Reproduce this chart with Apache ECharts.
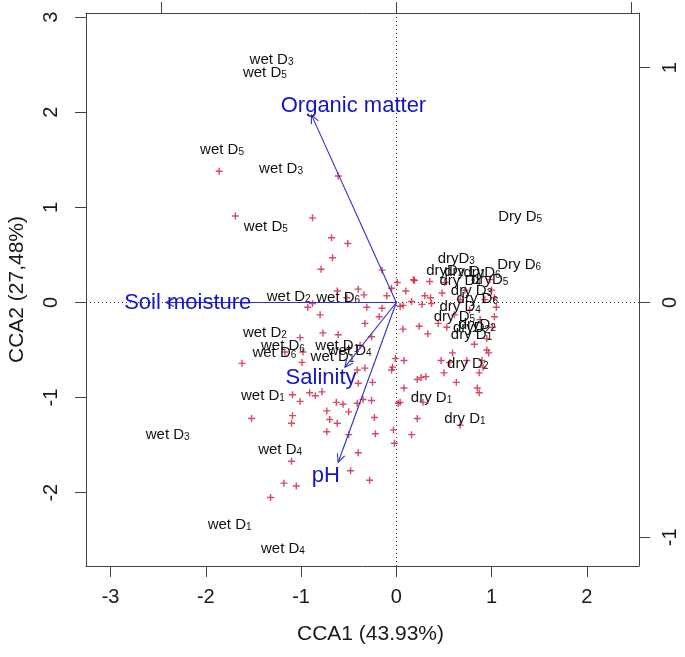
<!DOCTYPE html>
<html><head><meta charset="utf-8">
<script src="https://cdn.jsdelivr.net/npm/echarts@6/dist/echarts.min.js"></script>
<style>html,body{margin:0;padding:0;background:#fff}#c{width:685px;height:657px}</style>
</head><body><div id="c"></div>
<script>
// ---- axis ticks / titles ----
const xTicks = [-3, -2, -1, 0, 1, 2];
const yTicks = [-2, -1, 0, 1, 2, 3];
const topTicks = [-1, 0, 1];
const rightTicks = [-1, 0, 1];
const xTitle = 'CCA1 (43.93%)';
const yTitle = 'CCA2 (27,48%)';

// ---- species scores (red +) ----
const speciesX = [-1.86,-1.69,-0.88,-0.61,-0.68,-0.51,-0.67,-0.79,-0.15,0.01,0.19,-0.05,0.10,-0.40,-0.34,-0.10,-0.62,-0.52,-0.88,-0.93,
  -0.31,-0.15,0.07,0.16,-0.80,-0.33,-0.18,-0.77,-0.61,-0.26,-1.01,-1.17,-0.98,-0.50,-0.38,-1.62,-0.99,-0.41,-0.33,-0.04,
  -1.09,-0.91,-0.85,-0.78,-1.01,-0.40,-0.25,-0.35,-0.26,-0.63,-0.56,-0.50,-0.41,-0.73,-1.52,-1.09,-1.10,-0.70,-0.62,-0.23,
  -0.73,-0.50,-0.22,-0.02,-0.40,-1.10,-0.48,-0.28,-1.18,-1.05,-1.32,-0.03,0.02,0.18,0.35,0.48,0.30,0.36,0.04,0.27,
  0.37,0.07,0.24,0.33,0.44,0.53,0.82,0.95,0.95,0.97,1.03,1.01,1.05,1.03,1.00,0.90,0.91,0.87,0.59,0.47,
  0.56,0.50,-0.01,0.08,-0.05,0.26,0.31,0.22,0.63,0.85,0.87,0.08,0.28,0.04,0.22,0.67,0.16,0.74,0.98,0.51,
  0.67,0.77,0.88,0.72,0.61,0.93];
const speciesY = [1.38,0.91,0.89,1.33,0.68,0.62,0.47,0.35,0.34,0.21,0.23,0.15,0.12,0.14,0.08,0.07,0.12,0.05,-0.01,-0.05,
  -0.05,-0.06,-0.03,0.01,-0.13,-0.22,-0.15,-0.32,-0.34,-0.36,-0.37,-0.52,-0.52,-0.48,-0.45,-0.64,-0.63,-0.71,-0.69,-0.68,
  -0.97,-0.95,-0.98,-0.94,-1.04,-0.85,-0.84,-1.02,-1.03,-1.05,-1.07,-1.15,-1.06,-1.14,-1.22,-1.19,-1.27,-1.23,-1.27,-1.21,
  -1.36,-1.39,-1.38,-1.48,-1.58,-1.67,-1.77,-1.87,-1.90,-1.93,-2.05,-1.34,-1.06,0.24,0.22,0.10,0.07,0.05,-0.04,-0.02,
  -0.01,-0.28,-0.25,-0.33,-0.22,-0.26,-0.44,-0.38,-0.50,-0.53,-0.15,-0.26,-0.05,0.05,0.13,-0.61,-0.68,-0.74,-0.53,-0.61,
  -0.63,-0.74,-0.59,-0.61,-0.71,-0.79,-0.78,-0.81,-0.84,-0.90,-0.95,-0.90,-1.05,-1.05,-1.22,-1.29,-1.39,-0.61,0.24,0.21,
  0.03,-0.08,-0.18,0.13,-0.13,0.03];

// ---- site scores (labels) ----
const siteBase = ['wet D','wet D','wet D','wet D','wet D','wet D','wet D','wet D','wet D','wet D','wet D','wet D','wet D','wet D','wet D','wet D','wet D','wet D',
  'Dry D','Dry D','dryD','dryD','dry D','dryD','dry D','dryD','dry D','dry D','dry D','dry D','dryD','dryD','dry D','dry D','dry D','dry D'];
const siteSub = ['3','5','5','3','5','2','6','2','6','6','1','1','4','1','3','4','1','4',
  '5','6','3','2','1','6','4','5','3','6','4','5','2','2','1','2','1','1'];
const siteX = [-1.31,-1.38,-1.83,-1.21,-1.37,-1.13,-0.61,-1.38,-1.19,-1.28,-0.62,-0.67,-0.49,-1.40,-2.40,-1.22,-1.75,-1.19,
  1.30,1.29,0.63,0.51,0.72,0.90,0.67,0.98,0.79,0.85,0.67,0.61,0.85,0.79,0.79,0.75,0.37,0.72];
const siteY = [2.56,2.43,1.62,1.42,0.81,0.07,0.06,-0.31,-0.45,-0.52,-0.45,-0.56,-0.50,-0.97,-1.38,-1.54,-2.33,-2.58,
  0.91,0.41,0.47,0.34,0.33,0.32,0.24,0.25,0.13,0.05,-0.04,-0.14,-0.23,-0.26,-0.33,-0.63,-0.99,-1.21];

// ---- environmental vectors ----
const envNames = ['Organic matter', 'Soil moisture', 'Salinity', 'pH'];
const envX = [-0.89, -2.42, -0.54, -0.61];
const envY = [1.97, 0.00, -0.68, -1.68];
const envLabelX = [-0.45, -2.19, -0.79, -0.74];
const envLabelY = [2.07, 0.00, -0.79, -1.82];

const FONT = 'Liberation Sans, Arial, sans-serif';
const chart = echarts.init(document.getElementById('c'), null, {renderer: 'canvas'});

const axisLineStyle = {show: true, lineStyle: {color: '#444', width: 1}};
const clear = 'rgba(0,0,0,0)';
const option = {
  backgroundColor: '#fff',
  animation: false,
  grid: {left: 86, top: 13, width: 553, height: 553, outerBoundsMode: 'none'},
  xAxis: [{
    type: 'value', position: 'bottom', min: -3.258, max: 2.548,
    axisLine: Object.assign({onZero: false}, axisLineStyle),
    axisTick: {show: true, length: 11, customValues: xTicks, lineStyle: {color: '#444'}},
    axisLabel: {customValues: xTicks, fontSize: 20, color: '#1a1a1a', fontFamily: FONT, margin: 21},
    splitLine: {show: false},
    name: xTitle, nameLocation: 'middle', nameGap: 58,
    nameTextStyle: {fontSize: 21, color: '#1a1a1a', fontFamily: FONT, padding: [0, 0, 0, 16]}
  }, {
    type: 'value', position: 'top', min: -1.318, max: 1.031,
    axisLine: Object.assign({onZero: false}, axisLineStyle),
    axisTick: {show: true, length: 11, customValues: topTicks, lineStyle: {color: '#444'}},
    axisLabel: {show: false},
    splitLine: {show: false}
  }],
  yAxis: [{
    type: 'value', position: 'left', min: -2.771, max: 3.044,
    axisLine: Object.assign({onZero: false}, axisLineStyle),
    axisTick: {show: true, length: 11, customValues: yTicks, lineStyle: {color: '#444'}},
    axisLabel: {customValues: yTicks, fontSize: 20, color: '#1a1a1a', fontFamily: FONT, rotate: 90, margin: 25},
    splitLine: {show: false},
    name: yTitle, nameLocation: 'middle', nameGap: 58,
    nameTextStyle: {fontSize: 21, color: '#1a1a1a', fontFamily: FONT}
  }, {
    type: 'value', position: 'right', min: -1.122, max: 1.233,
    axisLine: Object.assign({onZero: false}, axisLineStyle),
    axisTick: {show: true, length: 11, customValues: rightTicks, lineStyle: {color: '#444'}},
    axisLabel: {customValues: rightTicks, fontSize: 20, color: '#1a1a1a', fontFamily: FONT, rotate: 90, margin: 21},
    splitLine: {show: false}
  }],
  series: [
    {
      type: 'scatter', name: 'species', xAxisIndex: 0, yAxisIndex: 0,
      data: speciesX.map((x, i) => [x, speciesY[i]]),
      symbol: 'path://M4,0H6V4H10V6H6V10H4V6H0V4H4Z', symbolSize: 7,
      itemStyle: {color: '#d01c3a'},
      silent: true, z: 3,
      markLine: {
        silent: true, symbol: ['none', 'none'], label: {show: false},
        lineStyle: {color: '#333', width: 1, type: [1, 3]},
        data: [{xAxis: 0}, {yAxis: 0}], z: 1
      }
    },
    {
      type: 'scatter', name: 'sites', xAxisIndex: 0, yAxisIndex: 0,
      data: siteX.map((x, i) => ({value: [x, siteY[i]], base: siteBase[i], sub: siteSub[i]})),
      symbolSize: 2, itemStyle: {color: clear}, silent: true, z: 4,
      label: {
        show: true, position: 'inside', textBorderWidth: 0, opacity: 1,
        formatter: p => '{b|' + p.data.base + '}{s|' + p.data.sub + '}',
        rich: {
          b: {fontSize: 15, fontFamily: FONT, color: '#111', lineHeight: 17, verticalAlign: 'bottom', textBorderWidth: 0},
          s: {fontSize: 10, fontFamily: FONT, color: '#111', lineHeight: 8, verticalAlign: 'bottom', textBorderWidth: 0}
        }
      },
      labelLayout: {hideOverlap: false}
    },
    {
      type: 'custom', name: 'vectors', xAxisIndex: 0, yAxisIndex: 0,
      data: envX.map((x, i) => [x, envY[i]]),
      silent: true, z: 5,
      renderItem: (params, api) => {
        const o = api.coord([0, 0]);
        const t = api.coord([api.value(0), api.value(1)]);
        const ang = Math.atan2(t[1] - o[1], t[0] - o[0]);
        const L = 9, A = Math.PI / 7;
        const h1 = [t[0] - L * Math.cos(ang - A), t[1] - L * Math.sin(ang - A)];
        const h2 = [t[0] - L * Math.cos(ang + A), t[1] - L * Math.sin(ang + A)];
        const st = {stroke: '#3030c8', lineWidth: 1.1, fill: null};
        return {type: 'group', children: [
          {type: 'line', shape: {x1: o[0], y1: o[1], x2: t[0], y2: t[1]}, style: st},
          {type: 'polyline', shape: {points: [h1, t, h2]}, style: st}
        ]};
      }
    },
    {
      type: 'scatter', name: 'envLabels', xAxisIndex: 0, yAxisIndex: 0,
      data: envLabelX.map((x, i) => ({value: [x, envLabelY[i]], name: envNames[i]})),
      symbolSize: 2, itemStyle: {color: clear}, silent: true, z: 6,
      label: {show: true, position: 'inside', formatter: p => p.name, textBorderWidth: 0, opacity: 1,
        fontSize: 22, fontFamily: FONT, color: '#1414c8'},
      labelLayout: {hideOverlap: false}
    }
  ]
};
chart.setOption(option);
</script>
</body></html>
